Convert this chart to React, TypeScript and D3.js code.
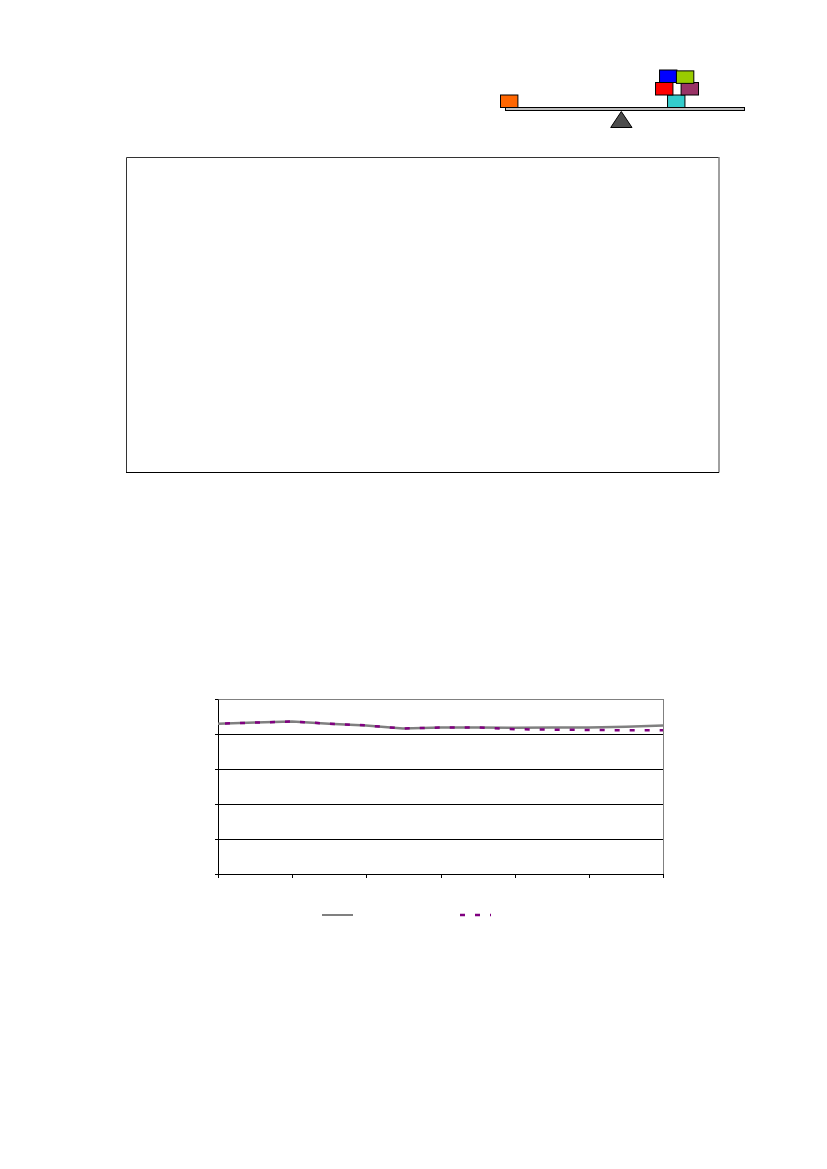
import { useEffect, useRef } from 'react'
import * as d3 from 'd3'

const W = 827
const H = 1169

// half steps between the unlabelled x ticks
const xSteps = [0, 0.5, 1, 1.5, 2, 2.5, 3, 3.5, 4, 4.5, 5, 5.5, 6]
const greySeries = [4.31, 4.34, 4.37, 4.31, 4.26, 4.17, 4.2, 4.2, 4.19, 4.2, 4.2, 4.22, 4.26]
const purpleSeries = [4.31, 4.34, 4.37, 4.31, 4.26, 4.17, 4.2, 4.2, 4.15, 4.14, 4.13, 4.12, 4.12]
const xTicks = [0, 1, 2, 3, 4, 5, 6]
const yTicks = [0, 1, 2, 3, 4, 5]

// balance picture, in block widths (col) and block heights (row) above the plank
const blockNames = ['orange', 'teal', 'red', 'purple', 'blue', 'green']
const blockCols = [0, 9.6, 8.91, 10.38, 9.14, 10.11]
const blockRows = [0, 0, 1, 1, 2, 1.93]
const blockColors = ['#ff6600', '#33cccc', '#ff0000', '#993366', '#0000ff', '#99cc00']

export default function App() {
  const svgRef = useRef<SVGSVGElement>(null)

  useEffect(() => {
    const svgEl = svgRef.current
    if (!svgEl) return
    const svg = d3.select(svgEl)
    svg.selectAll('*').remove()

    // outer empty frame, each side has its own weight in the original
    const frame = svg.append('g').attr('fill', 'none')
    frame.append('path').attr('d', 'M126.5,472.5V157.5H719').attr('stroke', '#333').attr('stroke-width', 1)
    frame.append('path').attr('d', 'M719,157V472.5').attr('stroke', '#808080').attr('stroke-width', 1.5)
    frame.append('path').attr('d', 'M126,472.5H719').attr('stroke', '#000').attr('stroke-width', 1)

    // balance
    const bx = d3.scaleLinear().domain([0, 1]).range([500.5, 517.9])
    const by = d3.scaleLinear().domain([0, 1]).range([107.5, 95])
    const balance = svg.append('g')
    balance.append('rect')
      .attr('x', 505.5).attr('y', 107.5).attr('width', 239).attr('height', 3)
      .attr('fill', '#c0c0c0').attr('stroke', '#000').attr('stroke-width', 1)
    balance.append('path')
      .attr('d', d3.line()([[621.3, 111.5], [632, 127.5], [610.7, 127.5]]) + 'Z')
      .attr('fill', '#4d4d4d').attr('stroke', '#000').attr('stroke-width', 1)
    blockNames.forEach((name, i) => {
      balance.append('rect')
        .attr('class', name)
        .attr('x', bx(blockCols[i]))
        .attr('y', by(blockRows[i] + 1))
        .attr('width', bx(1) - bx(0))
        .attr('height', by(0) - by(1))
        .attr('fill', blockColors[i])
        .attr('stroke', '#000').attr('stroke-width', 1)
    })

    // line chart
    const x = d3.scaleLinear().domain([0, 6]).rangeRound([218, 663])
    const y = d3.scaleLinear().domain([0, 5]).range([874, 699])

    const chart = svg.append('g')
    chart.append('rect')
      .attr('x', 218.5).attr('y', 699.5).attr('width', 445).attr('height', 175)
      .attr('fill', '#fff').attr('stroke', '#808080').attr('stroke-width', 1)

    chart.append('g')
      .attr('transform', 'translate(218,0)')
      .call(d3.axisRight(y).tickValues(yTicks.slice(1, 5)).tickSize(445).tickFormat(() => ''))
      .call(g => g.select('.domain').remove())
      .call(g => g.selectAll('line').attr('stroke', '#000'))

    chart.append('g')
      .attr('transform', 'translate(218,0)')
      .call(d3.axisLeft(y).tickValues(yTicks).tickSize(3).tickSizeOuter(0).tickFormat(() => ''))
      .call(g => g.selectAll('.domain,line').attr('stroke', '#000'))

    chart.append('g')
      .attr('transform', 'translate(0,874)')
      .call(d3.axisBottom(x).tickValues(xTicks).tickSize(4).tickSizeOuter(0).tickFormat(() => ''))
      .call(g => g.selectAll('.domain,line').attr('stroke', '#000'))

    const line = d3.line<number>()
      .x((_, i) => x(xSteps[i]))
      .y(d => y(d) + 0.5)

    chart.append('path').datum(greySeries)
      .attr('fill', 'none').attr('stroke', '#808080').attr('stroke-width', 2.5)
      .attr('d', line)
    chart.append('path').datum(purpleSeries)
      .attr('fill', 'none').attr('stroke', '#800080').attr('stroke-width', 2.5)
      .attr('stroke-dasharray', '5 10').attr('stroke-dashoffset', -7)
      .attr('d', line)

    // legend swatches, the labels are blank in the original
    svg.append('line')
      .attr('x1', 322).attr('x2', 353).attr('y1', 915).attr('y2', 915)
      .attr('stroke', '#808080').attr('stroke-width', 2)
    svg.append('line')
      .attr('x1', 460).attr('x2', 491).attr('y1', 915).attr('y2', 915)
      .attr('stroke', '#800080').attr('stroke-width', 2.5)
      .attr('stroke-dasharray', '5 10')
  }, [])

  return (
    <svg
      ref={svgRef}
      width={W}
      height={H}
      style={{ position: 'absolute', left: 0, top: 0, background: '#fff' }}
    />
  )
}
